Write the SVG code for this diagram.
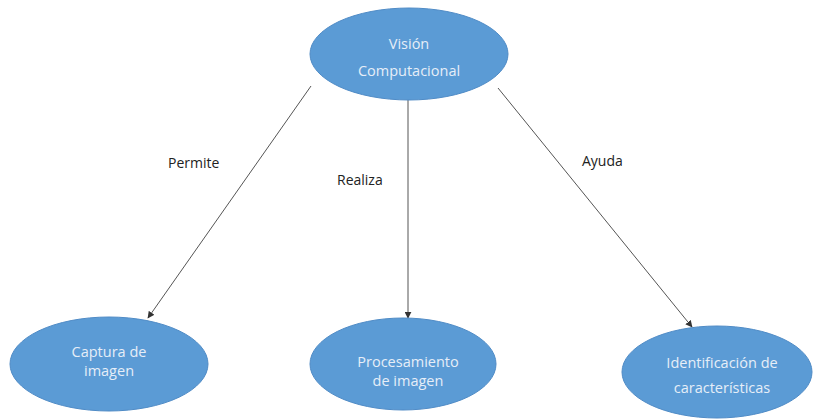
<svg xmlns="http://www.w3.org/2000/svg" width="815" height="420" viewBox="0 0 815 420">
<defs>
<style>
.node{fill:#5b9bd5;stroke:#4f8bc6;stroke-width:1}
.nt{font-family:"Open Sans","Noto Sans",sans-serif;font-size:14.5px;fill:#e6eef8;text-anchor:middle}
.lbl{font-family:"Open Sans","Noto Sans",sans-serif;font-size:14px;fill:#222}
.edge{stroke:#555;stroke-width:1;fill:none;marker-end:url(#arr)}
</style>
<marker id="arr" viewBox="0 0 10 10" refX="9" refY="5" markerWidth="7" markerHeight="7" orient="auto" markerUnits="userSpaceOnUse">
<path d="M0,0 L10,5 L0,10 z" fill="#333"/>
</marker>
</defs>
<rect width="815" height="420" fill="#ffffff"/>
<g id="connectors">
<line class="edge" x1="311" y1="86" x2="148" y2="318"/>
<line class="edge" x1="408" y1="100" x2="408" y2="318"/>
<line class="edge" x1="498" y1="88" x2="692" y2="327"/>
<text class="lbl" x="168" y="168">Permite</text>
<text class="lbl" x="337" y="185">Realiza</text>
<text class="lbl" x="582" y="166">Ayuda</text>
</g>
<g id="vision">
<ellipse class="node" cx="409" cy="54" rx="99" ry="46"/>
<text class="nt" x="409" y="49">Visión</text>
<text class="nt" x="409" y="76">Computacional</text>
</g>
<g id="captura">
<ellipse class="node" cx="109" cy="364" rx="99" ry="47"/>
<text class="nt" x="109" y="357">Captura  de</text>
<text class="nt" x="109" y="376">imagen</text>
</g>
<g id="procesamiento">
<ellipse class="node" cx="403" cy="364" rx="93" ry="46"/>
<text class="nt" x="408" y="367">Procesamiento</text>
<text class="nt" x="408" y="386">de imagen</text>
</g>
<g id="identificacion">
<ellipse class="node" cx="717" cy="372" rx="95" ry="46"/>
<text class="nt" x="722" y="368">Identificación de</text>
<text class="nt" x="722" y="393">características</text>
</g>
</svg>
